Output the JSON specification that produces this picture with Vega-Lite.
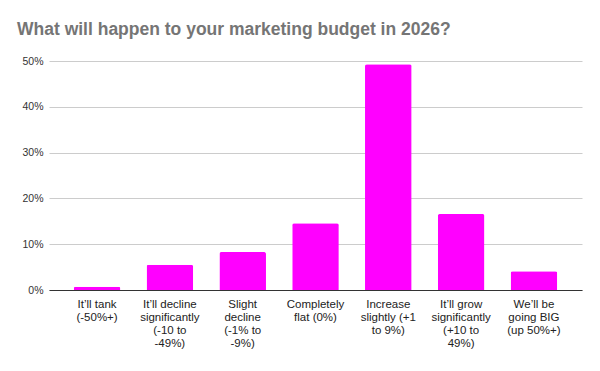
{
  "$schema": "https://vega.github.io/schema/vega-lite/v6.json",
  "width": 533,
  "height": 229,
  "autosize": "none",
  "padding": {"left": 49, "top": 61, "right": 18, "bottom": 81},
  "background": "white",
  "title": {
    "text": "What will happen to your marketing budget in 2026?",
    "anchor": "start",
    "frame": "group",
    "dx": -32,
    "offset": 18,
    "font": "Liberation Sans",
    "fontSize": 17.5,
    "fontWeight": "bold",
    "color": "#757575"
  },
  "data": {
    "values": [
      {"answer": "It’ll tank\n(-50%+)", "share": 0.007},
      {"answer": "It’ll decline\nsignificantly\n(-10 to\n-49%)", "share": 0.055},
      {"answer": "Slight\ndecline\n(-1% to\n-9%)", "share": 0.083},
      {"answer": "Completely\nflat (0%)", "share": 0.146},
      {"answer": "Increase\nslightly (+1\nto 9%)", "share": 0.493},
      {"answer": "It’ll grow\nsignificantly\n(+10 to\n49%)", "share": 0.166},
      {"answer": "We’ll be\ngoing BIG\n(up 50%+)", "share": 0.041}
    ]
  },
  "mark": {"type": "bar", "color": "#ff00ff", "cornerRadiusTopLeft": 2, "cornerRadiusTopRight": 2},
  "encoding": {
    "x": {
      "field": "answer",
      "type": "nominal",
      "sort": null,
      "scale": {"paddingInner": 0.36, "paddingOuter": 0.34},
      "axis": {
        "title": null,
        "labelAngle": 0,
        "labelExpr": "split(datum.value, '\\n')",
        "labelFont": "Liberation Sans",
        "labelFontSize": 11.5,
        "labelColor": "#222222",
        "labelLineHeight": 13.3,
        "labelPadding": 8,
        "labelBaseline": "top",
        "ticks": false,
        "domainColor": "#333333",
        "labelLimit": 0
      }
    },
    "y": {
      "field": "share",
      "type": "quantitative",
      "scale": {"domain": [0, 0.5], "nice": false},
      "axis": {
        "title": null,
        "format": ".0%",
        "values": [0, 0.1, 0.2, 0.3, 0.4, 0.5],
        "labelFont": "Liberation Sans",
        "labelFontSize": 10.5,
        "labelColor": "#333333",
        "labelPadding": 6,
        "ticks": false,
        "domain": false,
        "gridColor": "#cccccc"
      }
    }
  },
  "config": {"view": {"stroke": null}}
}
